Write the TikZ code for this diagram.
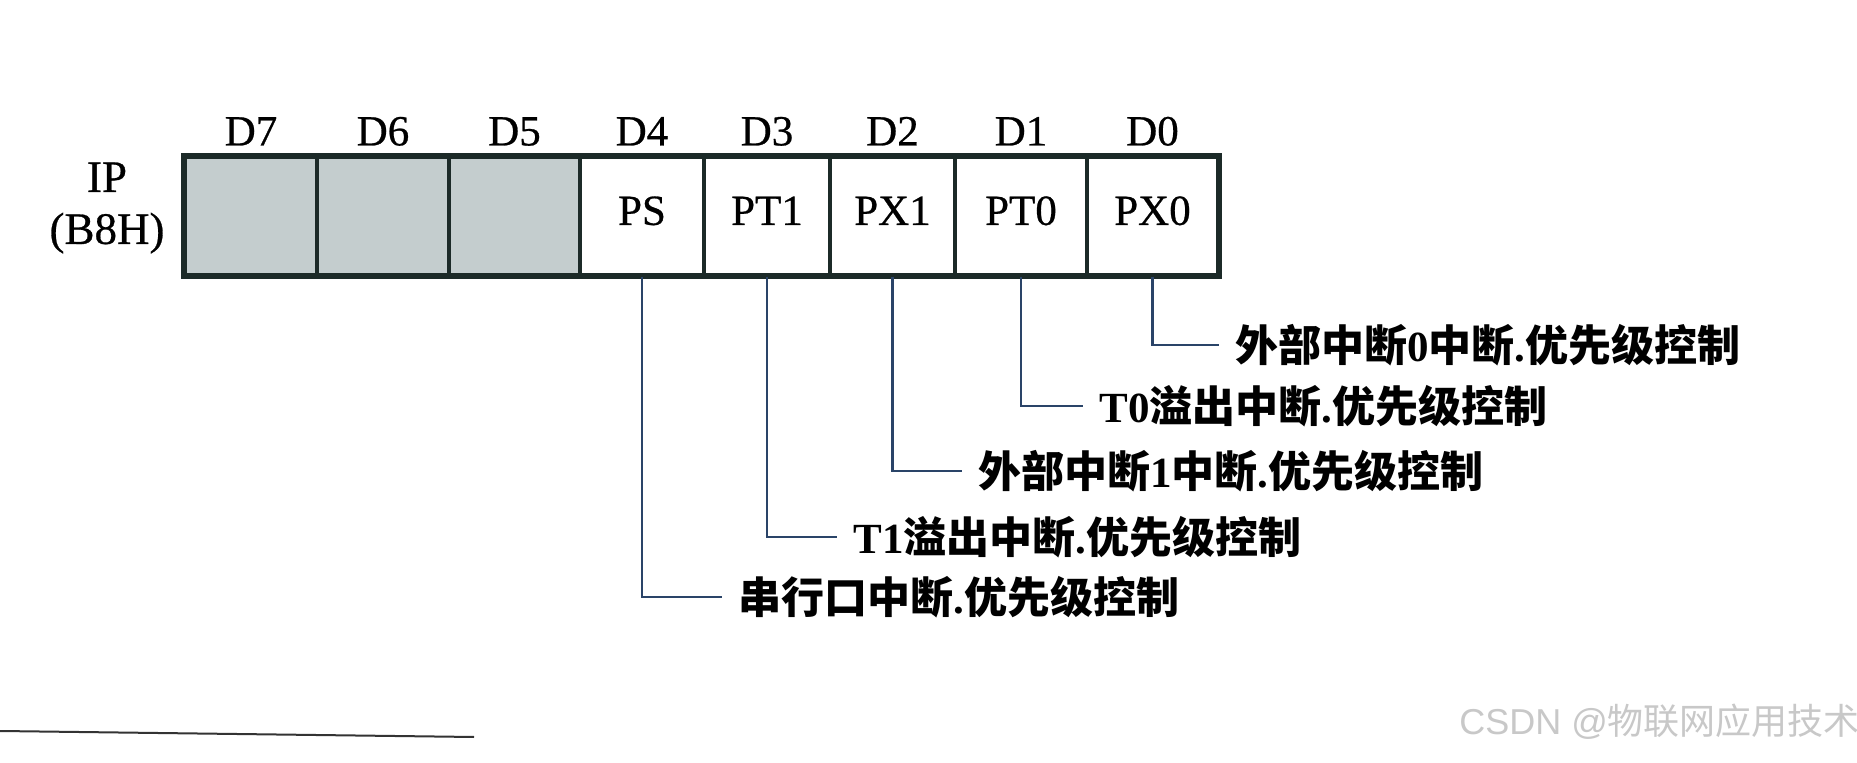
\documentclass[tikz,border=0pt]{standalone}
\usepackage{fontspec}
\setmainfont{Liberation Serif}
\newfontfamily\lab{Liberation Serif}[FakeBold=0.6]
\newfontfamily\cjk{Noto Sans CJK SC}
\newfontfamily\wmsans{Liberation Sans}
\definecolor{boxcol}{RGB}{28,42,40}
\definecolor{cellgrey}{RGB}{196,205,206}
\definecolor{conncol}{RGB}{42,68,104}
\definecolor{wmcol}{RGB}{200,200,200}
\tikzset{
  cell/.style={draw=boxcol, line width=1.6pt, minimum height=59pt, inner sep=0pt,
    text height=13.9pt, text depth=5pt, font=\lab\fontsize{21.5}{25}\selectfont},
  greycell/.style={cell, fill=cellgrey},
  dlab/.style={anchor=base, inner sep=0pt, font=\lab\fontsize{21.5}{25}\selectfont},
  desc/.style={anchor=west, inner xsep=8pt, inner ysep=0pt, font=\fontsize{21.5}{26}\selectfont\bfseries},
  conn/.style={draw=conncol, line width=1.2pt},
}
\begin{document}
\begin{tikzpicture}[x=0.5pt,y=-0.5pt]
\useasboundingbox[fill=white] (0,0) rectangle (1857,763);
% register cells
\node[greycell, minimum width=66pt]   (d7) at (251,216) {};
\node[greycell, minimum width=66pt]   (d6) at (383,216) {};
\node[greycell, minimum width=65.5pt] (d5) at (514.5,216) {};
\node[cell, minimum width=62pt]   (d4) at (642,216) {PS};
\node[cell, minimum width=63pt]   (d3) at (767,216) {PT1};
\node[cell, minimum width=62.5pt] (d2) at (892.5,216) {PX1};
\node[cell, minimum width=66pt]   (d1) at (1021,216) {PT0};
\node[cell, minimum width=65.5pt] (d0) at (1152.5,216) {PX0};
\draw[draw=boxcol, line width=2pt] (d7.north west) rectangle (d0.south east);
% bit labels
\node[dlab] (l7) at ([yshift=5pt]d7.north) {D7};
\node[dlab] (l6) at ([yshift=5pt]d6.north) {D6};
\node[dlab] (l5) at ([yshift=5pt]d5.north) {D5};
\node[dlab] (l4) at ([yshift=5pt]d4.north) {D4};
\node[dlab] (l3) at ([yshift=5pt]d3.north) {D3};
\node[dlab] (l2) at ([yshift=5pt]d2.north) {D2};
\node[dlab] (l1) at ([yshift=5pt]d1.north) {D1};
\node[dlab] (l0) at ([yshift=5pt]d0.north) {D0};
% register name
\node[align=center, inner sep=0pt, font=\lab\fontsize{22.5}{26}\selectfont] (ip) at (107,208) {IP\\(B8H)};
% descriptions
\node[desc] (tpx0) at (1219,345) {{\cjk 外部中断}0{\cjk 中断}.{\cjk 优先级控制}};
\node[desc] (tpt0) at (1083,406) {T0{\cjk 溢出中断}.{\cjk 优先级控制}};
\node[desc] (tpx1) at (962,471) {{\cjk 外部中断}1{\cjk 中断}.{\cjk 优先级控制}};
\node[desc] (tpt1) at (837,537) {T1{\cjk 溢出中断}.{\cjk 优先级控制}};
\node[desc] (tps)  at (722,597) {{\cjk 串行口中断}.{\cjk 优先级控制}};
% connectors
\draw[conn] (d0.south) |- (tpx0.west);
\draw[conn] (d1.south) |- (tpt0.west);
\draw[conn] (d2.south) |- (tpx1.west);
\draw[conn] (d3.south) |- (tpt1.west);
\draw[conn] (d4.south) |- (tps.west);
% footnote rule
\draw[line width=1pt, draw=black!80] (0,731) -- (474,737);
% watermark
\node[anchor=west, inner sep=0pt, text=wmcol, font=\fontsize{18}{22}\selectfont] (wm) at (1459,722) {{\wmsans CSDN @}{\cjk 物联网应用技术}};
\end{tikzpicture}
\end{document}
